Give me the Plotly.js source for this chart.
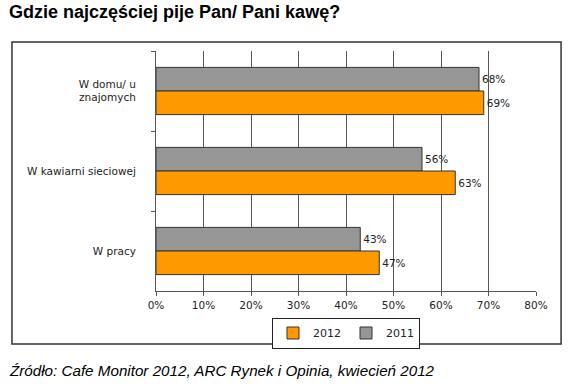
<!DOCTYPE html>
<html>
<head>
<meta charset="utf-8">
<script src="https://cdn.plot.ly/plotly-3.0.1.min.js"></script>
<style>
html,body{margin:0;padding:0;background:#fff;}
#chart{width:572px;height:385px;}
</style>
</head>
<body>
<div id="chart"></div>
<script>
const categories = ["W domu/ u<br>znajomych", "W kawiarni sieciowej", "W pracy"];
const values2011 = [68, 56, 43];
const values2012 = [69, 63, 47];
const seriesNames = ["2011", "2012"];
const xTicks = [0, 10, 20, 30, 40, 50, 60, 70, 80];
const xTickLabels = ["0%", "10%", "20%", "30%", "40%", "50%", "60%", "70%", "80%"];

const labelFont = {family: "DejaVu Sans, Verdana, sans-serif", size: 10.5, color: "#222"};

const traces = [
  {
    type: "bar", orientation: "h", name: seriesNames[0],
    y: categories, x: values2011,
    marker: {color: "#969696", line: {color: "#333", width: 1}},
    text: values2011.map(v => v + "%"), textposition: "outside",
    textfont: labelFont, cliponaxis: false, hoverinfo: "skip"
  },
  {
    type: "bar", orientation: "h", name: seriesNames[1],
    y: categories, x: values2012,
    marker: {color: "#FF9900", line: {color: "#333", width: 1}},
    text: values2012.map(v => v + "%"), textposition: "outside",
    textfont: labelFont, cliponaxis: false, hoverinfo: "skip"
  }
];

const layout = {
  width: 572, height: 385,
  margin: {l: 156, r: 36, t: 51, b: 94},
  paper_bgcolor: "#fff", plot_bgcolor: "#fff",
  barmode: "group", bargap: 0.41, bargroupgap: 0,
  showlegend: true,
  font: labelFont,
  xaxis: {
    range: [0, 80], tickmode: "array", tickvals: xTicks, ticktext: xTickLabels,
    showgrid: true, gridcolor: "#555", gridwidth: 1,
    zeroline: false, showline: true, linecolor: "#555", linewidth: 1,
    ticks: "outside", ticklen: 4, tickcolor: "#555",
    tickfont: labelFont, fixedrange: true
  },
  yaxis: {
    autorange: "reversed", type: "category",
    showgrid: false, zeroline: false,
    showline: true, linecolor: "#555", linewidth: 1,
    ticks: "outside", ticklen: 4, tickcolor: "#555", tickson: "boundaries",
    tickfont: labelFont, ticklabelstandoff: 17, fixedrange: true
  },
  legend: {
    orientation: "h", x: 0.5, xanchor: "center", y: -0.175, yanchor: "middle",
    traceorder: "reversed", bordercolor: "#222", borderwidth: 1,
    font: {family: "DejaVu Sans, Verdana, sans-serif", size: 11, color: "#222"},
    itemwidth: 30, tracegroupgap: 0
  },
  shapes: [
    {type: "rect", xref: "paper", yref: "paper",
     x0: -0.379, x1: 1.066, y0: -0.221, y1: 1.0375,
     line: {color: "#333", width: 1.5}, fillcolor: "rgba(0,0,0,0)", layer: "below"}
  ],
  annotations: [
    {text: "<b>Gdzie najczęściej pije Pan/ Pani kawę?</b>", xref: "paper", yref: "paper",
     x: -0.392, xanchor: "left", y: 1.163, yanchor: "middle", showarrow: false,
     font: {family: "Liberation Sans, Arial, sans-serif", size: 18, color: "#000"}},
    {text: "<i>Źródło: Cafe Monitor 2012, ARC Rynek i Opinia, kwiecień 2012</i>", xref: "paper", yref: "paper",
     x: -0.392, xanchor: "left", y: -0.333, yanchor: "middle", showarrow: false,
     font: {family: "Liberation Sans, Arial, sans-serif", size: 15.2, color: "#000"}}
  ]
};

Plotly.newPlot("chart", traces, layout, {displayModeBar: false, staticPlot: true});
</script>
</body>
</html>
